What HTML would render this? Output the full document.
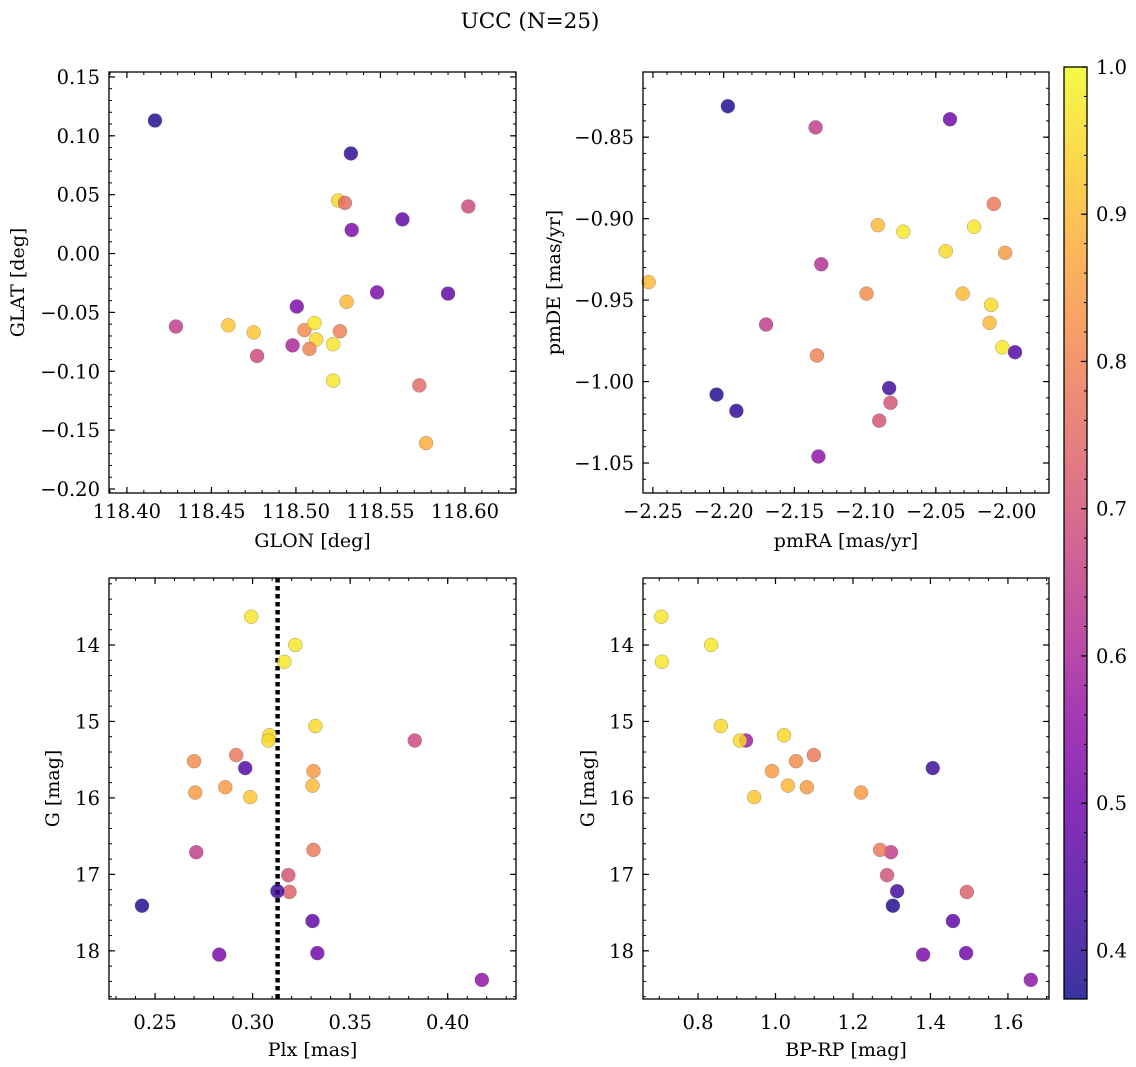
<!DOCTYPE html>
<html><head><meta charset="utf-8">
<style>
html,body{margin:0;padding:0;background:#fff;}
svg{display:block;font-family:"DejaVu Serif","Liberation Serif",serif;}
</style></head>
<body>
<svg id="fig" width="1136" height="1067" viewBox="0 0 1136 1067" xmlns="http://www.w3.org/2000/svg">
<defs>
<linearGradient id="plasma" x1="0" y1="1" x2="0" y2="0">
<stop offset="0" stop-color="#0d0887"/><stop offset="0.1" stop-color="#41049d"/><stop offset="0.2" stop-color="#6a00a8"/><stop offset="0.3" stop-color="#8f0da4"/><stop offset="0.4" stop-color="#b12a90"/><stop offset="0.5" stop-color="#cc4778"/><stop offset="0.6" stop-color="#e16462"/><stop offset="0.7" stop-color="#f2844b"/><stop offset="0.8" stop-color="#fca636"/><stop offset="0.9" stop-color="#fcce25"/><stop offset="1" stop-color="#f0f921"/>
</linearGradient>
</defs>
<text x="530" y="28" text-anchor="middle" font-size="21.5">UCC (N=25)</text>
</svg>
<script>
// ---- Data ----
const glon = [118.4166,118.5325,118.525,118.529,118.533,118.563,118.602,118.530,118.548,118.590,118.5005,118.429,118.460,118.475,118.477,118.498,118.505,118.511,118.512,118.508,118.522,118.526,118.522,118.573,118.577];
const glat = [0.113,0.085,0.045,0.043,0.020,0.029,0.040,-0.041,-0.033,-0.034,-0.045,-0.062,-0.061,-0.067,-0.087,-0.078,-0.065,-0.059,-0.073,-0.081,-0.077,-0.066,-0.108,-0.112,-0.161];
const probA = [0.38,0.40,0.95,0.75,0.52,0.47,0.68,0.90,0.52,0.47,0.52,0.65,0.92,0.92,0.68,0.60,0.82,0.97,0.95,0.80,0.97,0.80,0.97,0.75,0.88];

const pmra = [-2.197,-2.135,-2.040,-2.009,-2.091,-2.073,-2.023,-2.043,-2.001,-2.131,-2.253,-2.099,-2.031,-2.011,-2.170,-2.012,-2.003,-1.994,-2.134,-2.083,-2.205,-2.082,-2.191,-2.090,-2.133];
const pmde = [-0.831,-0.844,-0.839,-0.891,-0.904,-0.908,-0.905,-0.920,-0.921,-0.928,-0.939,-0.946,-0.946,-0.953,-0.965,-0.964,-0.979,-0.982,-0.984,-1.004,-1.008,-1.013,-1.018,-1.024,-1.046];
const probB = [0.38,0.65,0.50,0.78,0.90,0.97,0.97,0.95,0.85,0.62,0.90,0.82,0.90,0.95,0.65,0.90,0.97,0.45,0.80,0.42,0.38,0.70,0.40,0.70,0.55];

const plx = [0.2993,0.3219,0.3163,0.3322,0.3086,0.3081,0.3831,0.2916,0.2700,0.2962,0.3312,0.2860,0.3307,0.2706,0.2988,0.2711,0.3312,0.3183,0.3189,0.3127,0.2433,0.3307,0.2829,0.3332,0.4175];
const gmagC = [13.63,14.00,14.22,15.06,15.18,15.25,15.25,15.44,15.52,15.61,15.65,15.86,15.84,15.93,15.99,16.71,16.68,17.01,17.23,17.22,17.41,17.61,18.05,18.03,18.38];
const probC = [0.97,0.97,0.97,0.95,0.95,0.95,0.68,0.78,0.82,0.45,0.85,0.85,0.90,0.85,0.92,0.65,0.78,0.70,0.73,0.42,0.38,0.47,0.52,0.50,0.55];
const plxMedian = 0.3128;

const bprp = [0.705,0.834,0.707,0.859,1.022,0.924,0.908,1.099,1.053,1.406,0.991,1.081,1.032,1.221,0.945,1.298,1.270,1.288,1.494,1.314,1.303,1.458,1.381,1.492,1.659];
const gmagD = [13.63,14.00,14.22,15.06,15.18,15.25,15.25,15.44,15.52,15.61,15.65,15.86,15.84,15.93,15.99,16.71,16.68,17.01,17.23,17.22,17.41,17.61,18.05,18.03,18.38];
const probD = [0.97,0.97,0.97,0.95,0.95,0.58,0.95,0.78,0.82,0.42,0.85,0.85,0.90,0.85,0.92,0.65,0.78,0.70,0.73,0.42,0.38,0.47,0.52,0.50,0.55];

const ticksGlon = ["118.40","118.45","118.50","118.55","118.60"];
const ticksGlat = ["0.15","0.10","0.05","0.00","−0.05","−0.10","−0.15","−0.20"];
const ticksPmra = ["−2.25","−2.20","−2.15","−2.10","−2.05","−2.00"];
const ticksPmde = ["−0.85","−0.90","−0.95","−1.00","−1.05"];
const ticksPlx = ["0.25","0.30","0.35","0.40"];
const ticksG = ["14","15","16","17","18"];
const ticksBprp = ["0.8","1.0","1.2","1.4","1.6"];
const ticksCbar = ["0.4","0.5","0.6","0.7","0.8","0.9","1.0"];
const cMin = 0.367, cMax = 1.0;

// ---- Rendering ----
const NS = "http://www.w3.org/2000/svg";
const svg = document.getElementById('fig');
const TF = 19.5, LF = 19;
function mk(tag, attrs, parent){
  const e = document.createElementNS(NS, tag);
  for (const k in attrs) e.setAttribute(k, attrs[k]);
  (parent||svg).appendChild(e);
  return e;
}
const stops = ["#0d0887","#41049d","#6a00a8","#8f0da4","#b12a90","#cc4778","#e16462","#f2844b","#fca636","#fcce25","#f0f921"];
function hex(h){return [parseInt(h.substr(1,2),16),parseInt(h.substr(3,2),16),parseInt(h.substr(5,2),16)];}
function plasma(v){
  let t = (v-cMin)/(cMax-cMin); t=Math.max(0,Math.min(1,t));
  const f = t*10, i = Math.min(9, Math.floor(f)), r = f-i;
  const a = hex(stops[i]), b = hex(stops[i+1]);
  return 'rgb('+a.map((x,j)=>Math.round(x+(b[j]-x)*r)).join(',')+')';
}
const num = s => parseFloat(s.replace('−','-'));

function panel(cfg){
  const {name,L,R,T,B,x0,x1,y0,y1,xt,yt,xminor,yminor,xs,ys,cs,xlabel,ylabel,ylx,invert,tdy,ldy} = cfg;
  const g = mk('g', {});
  
  
  const sx = v => L + (v-x0)/(x1-x0)*(R-L);
  const sy = invert ? (v => T + (v-y0)/(y1-y0)*(B-T)) : (v => B - (v-y0)/(y1-y0)*(B-T));
  const lo = Math.min(x0,x1), hi=Math.max(x0,x1);
  for (let v=Math.ceil(lo/xminor-1e-6)*xminor; v<=hi+1e-9; v+=xminor){
    const X=sx(v);
    mk('line',{x1:X,x2:X,y1:B,y2:B-3,stroke:'#000','stroke-width':1},g);
    mk('line',{x1:X,x2:X,y1:T,y2:T+3,stroke:'#000','stroke-width':1},g);
  }
  const ylo=Math.min(y0,y1), yhi=Math.max(y0,y1);
  for (let v=Math.ceil(ylo/yminor-1e-6)*yminor; v<=yhi+1e-9; v+=yminor){
    const Y=sy(v);
    mk('line',{x1:L,x2:L+3,y1:Y,y2:Y,stroke:'#000','stroke-width':1},g);
    mk('line',{x1:R,x2:R-3,y1:Y,y2:Y,stroke:'#000','stroke-width':1},g);
  }
  xt.forEach(s=>{
    const X=sx(num(s));
    mk('line',{x1:X,x2:X,y1:B,y2:B-6,stroke:'#000','stroke-width':1.2},g);
    mk('line',{x1:X,x2:X,y1:T,y2:T+6,stroke:'#000','stroke-width':1.2},g);
    const t=mk('text',{x:X,y:B+tdy,'text-anchor':'middle','font-size':TF},g);
    t.textContent=s;
    
    
  });
  yt.forEach(s=>{
    const Y=sy(num(s));
    mk('line',{x1:L,x2:L+6,y1:Y,y2:Y,stroke:'#000','stroke-width':1.2},g);
    mk('line',{x1:R,x2:R-6,y1:Y,y2:Y,stroke:'#000','stroke-width':1.2},g);
    const t=mk('text',{x:L-9,y:Y+7,'text-anchor':'end','font-size':TF},g);
    t.textContent=s;
    
    
  });
  if (cfg.vline!==undefined){
    const X=sx(cfg.vline);
    const l=mk('line',{x1:X,x2:X,y1:T,y2:B,stroke:'#000','stroke-width':4.5,'stroke-dasharray':'4.5 3.5'},g);
    
    
  }
  xs.forEach((v,i)=>{
    const c=mk('circle',{cx:sx(v),cy:sy(ys[i]),r:7,fill:plasma(cs[i]),'fill-opacity':0.82,stroke:'#666','stroke-width':0.5,'stroke-opacity':0.6},g);
    
    
  });
  mk('rect',{x:L,y:T,width:R-L,height:B-T,fill:'none',stroke:'#000','stroke-width':1.3},g);
  const xl=mk('text',{x:(L+R)/2,y:B+ldy,'text-anchor':'middle','font-size':LF},g);
  xl.textContent=xlabel;
  
  
  const ym=(T+B)/2;
  const yl=mk('text',{x:ylx,y:ym,'text-anchor':'middle','font-size':LF,transform:'rotate(-90 '+ylx+' '+ym+')'},g);
  yl.textContent=ylabel;
  
  
}

panel({name:'glon-glat-panel',L:109,R:516,T:72,B:493,x0:118.3894,x1:118.6302,y0:-0.2034,y1:0.1542,tdy:25,ldy:54,
  xt:ticksGlon,yt:ticksGlat,xminor:0.01,yminor:0.01,xs:glon,ys:glat,cs:probA,xlabel:'GLON [deg]',ylabel:'GLAT [deg]',ylx:24});
panel({name:'pm-panel',L:643,R:1049,T:72,B:493,x0:-2.257,x1:-1.970,y0:-1.0684,y1:-0.810,tdy:25,ldy:54,
  xt:ticksPmra,yt:ticksPmde,xminor:0.01,yminor:0.01,xs:pmra,ys:pmde,cs:probB,xlabel:'pmRA [mas/yr]',ylabel:'pmDE [mas/yr]',ylx:560});
panel({name:'plx-g-panel',L:109,R:516,T:578,B:999,x0:0.2264,x1:0.435,y0:13.124,y1:18.63,invert:true,tdy:30,ldy:57,
  xt:ticksPlx,yt:ticksG,xminor:0.01,yminor:0.2,xs:plx,ys:gmagC,cs:probC,xlabel:'Plx [mas]',ylabel:'G [mag]',ylx:59,vline:plxMedian});
panel({name:'cmd-panel',L:643,R:1049,T:578,B:999,x0:0.658,x1:1.706,y0:13.124,y1:18.63,invert:true,tdy:30,ldy:57,
  xt:ticksBprp,yt:ticksG,xminor:0.05,yminor:0.2,xs:bprp,ys:gmagD,cs:probD,xlabel:'BP-RP [mag]',ylabel:'G [mag]',ylx:594});

// colorbar
(function(){
  const L=1064,R=1087,T=67,B=999;
  const g=mk('g',{});
  
  
  mk('rect',{x:L,y:T,width:R-L,height:B-T,fill:'url(#plasma)','fill-opacity':0.82},g);
  const sy=v=>B-(v-cMin)/(cMax-cMin)*(B-T);
  for(let v=0.38; v<=1.0001; v+=0.02){
    const Y=sy(v); mk('line',{x1:R,x2:R-3,y1:Y,y2:Y,stroke:'#000','stroke-width':1},g);
  }
  ticksCbar.forEach(s=>{
    const Y=sy(num(s));
    mk('line',{x1:R,x2:R-6,y1:Y,y2:Y,stroke:'#000','stroke-width':1.2},g);
    const t=mk('text',{x:R+9,y:Y+7,'font-size':TF},g);
    t.textContent=s;
    
    
  });
  mk('rect',{x:L,y:T,width:R-L,height:B-T,fill:'none',stroke:'#000','stroke-width':1.3},g);
})();
</script>
</body></html>
